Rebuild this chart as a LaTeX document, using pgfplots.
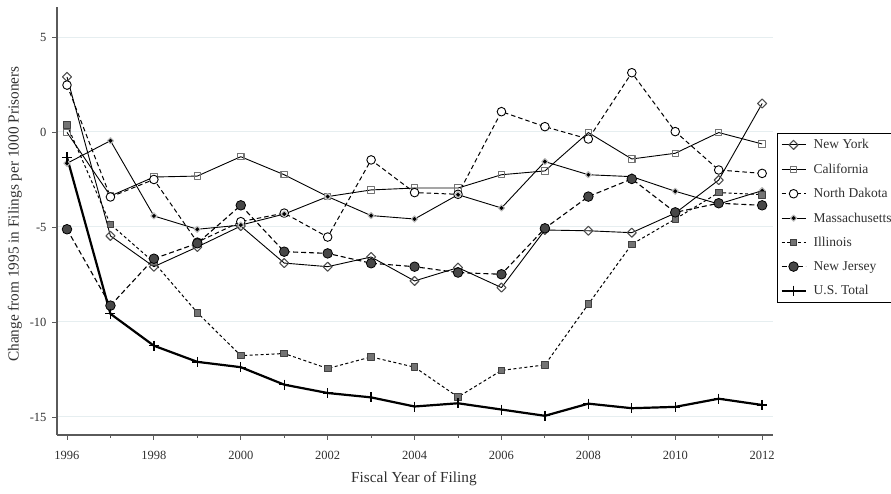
\documentclass[border=0pt]{standalone}
\usepackage{pgfplots}
\usepackage{pgfplotstable}
\pgfplotsset{compat=1.18}
\usepackage{fontspec}
\setmainfont{Liberation Serif}
\definecolor{gridc}{HTML}{E6EEF0}
\definecolor{spinec}{HTML}{5A5A5A}
\definecolor{txtc}{HTML}{303030}

\pgfplotstableread{
year NY CA ND MA IL NJ US
1996 2.9 -0.02 2.47 -1.65 0.37 -5.12 -1.33
1997 -5.47 -3.37 -3.42 -0.46 -4.86 -9.14 -9.57
1998 -7.09 -2.37 -2.5 -4.42 -6.86 -6.67 -11.25
1999 -6.05 -2.32 -5.8 -5.12 -9.51 -5.86 -12.1
2000 -4.95 -1.3 -4.72 -4.9 -11.77 -3.86 -12.38
2001 -6.9 -2.25 -4.27 -4.32 -11.66 -6.3 -13.3
2002 -7.09 -3.4 -5.53 -3.4 -12.45 -6.39 -13.74
2003 -6.58 -3.05 -1.47 -4.4 -11.84 -6.91 -13.97
2004 -7.84 -2.95 -3.19 -4.58 -12.38 -7.09 -14.45
2005 -7.14 -2.95 -3.28 -3.3 -13.95 -7.4 -14.28
2006 -8.19 -2.25 1.07 -4.0 -12.55 -7.49 -14.61
2007 -5.16 -2.05 0.28 -1.56 -12.26 -5.07 -14.94
2008 -5.2 -0.03 -0.37 -2.25 -9.06 -3.4 -14.3
2009 -5.3 -1.42 3.12 -2.35 -5.91 -2.47 -14.54
2010 -4.27 -1.12 0.02 -3.12 -4.58 -4.23 -14.47
2011 -2.53 -0.03 -2.0 -3.79 -3.19 -3.75 -14.04
2012 1.5 -0.63 -2.18 -3.09 -3.3 -3.86 -14.37
}\datatable

\begin{document}
\begin{tikzpicture}
\begin{axis}[
  name=ax,
  scale only axis,
  width=716pt, height=428pt,
  xmin=1995.77, xmax=2012.25,
  ymin=-15.95, ymax=6.58,
  axis x line*=bottom, axis y line*=left,
  axis line style={spinec, line width=1.1pt},
  tick align=outside,
  major tick length=5pt, minor tick length=3pt,
  tick style={spinec, line width=0.9pt},
  xtick={1996,1998,...,2012},
  minor xtick={1997,1999,...,2011},
  ytick={-15,-10,-5,0,5},
  ymajorgrids,
  grid style={gridc, line width=1pt},
  /pgf/number format/assume math mode=true,
  /pgf/number format/1000 sep={},
  xticklabel style={font=\fontsize{12.5}{15}\selectfont, text=txtc, yshift=-8pt},
  yticklabel style={font=\fontsize{12.5}{15}\selectfont, text=txtc, xshift=-2pt},
  xlabel={Fiscal Year of Filing},
  ylabel={Change from 1995 in Filings per 1000 Prisoners},
  xlabel style={font=\fontsize{15.3}{18}\selectfont, text=txtc, at={(axis description cs:0.4986,-0.1028)}, anchor=center},
  ylabel style={font=\fontsize{15.3}{18}\selectfont, text=txtc, at={(axis description cs:-0.0587,0.516)}, anchor=center, rotate=0},
  legend style={at={(axis description cs:1.0056,0.7056)}, anchor=north west,
    draw=black, line width=0.9pt, font=\fontsize{13.5}{16}\selectfont, text=txtc,
    inner xsep=3pt, inner ysep=4pt,
    row sep=9.5pt, nodes={inner sep=2pt}},
  legend cell align=left,
  legend image code/.code={\draw[mark repeat=2,mark phase=2,#1] plot coordinates {(0pt,0pt) (12pt,0pt) (24pt,0pt)}; \path (29pt,0pt);},
  every axis plot/.append style={line join=round},
]
% New York
\addplot[black, line width=0.9pt, mark=square, mark size=3.2pt,
  mark options={rotate=45, solid, draw=black!70, fill=white, line width=1.1pt}]
  table[x=year, y=NY]{\datatable};
\addlegendentry{New York}
% California
\addplot[black, line width=0.9pt, mark=square, mark size=3.2pt,
  mark options={solid, draw=black!55, fill=white, line width=1.1pt}]
  table[x=year, y=CA]{\datatable};
\addlegendentry{California}
% North Dakota
\addplot[black, line width=1pt, dash pattern=on 4.5pt off 3pt, mark=*, mark size=4.3pt,
  mark options={solid, draw=black, fill=white, line width=0.9pt}]
  table[x=year, y=ND]{\datatable};
\addlegendentry{North Dakota}
% Massachusetts
\addplot[black, line width=0.9pt, mark=square*, mark size=2.2pt,
  mark options={rotate=45, solid, draw=black!25, fill=black, line width=1.1pt}]
  table[x=year, y=MA]{\datatable};
\addlegendentry{Massachusetts}
% Illinois
\addplot[black, line width=1pt, dash pattern=on 3pt off 2.5pt, mark=square*, mark size=3.3pt,
  mark options={solid, draw=black!75, fill=black!55, line width=0.9pt}]
  table[x=year, y=IL]{\datatable};
\addlegendentry{Illinois}
% New Jersey
\addplot[black, line width=1.1pt, dash pattern=on 5pt off 3pt, mark=*, mark size=4.8pt,
  mark options={solid, draw=black, fill=black!72, line width=0.8pt}]
  table[x=year, y=NJ]{\datatable};
\addlegendentry{New Jersey}
% U.S. Total
\addplot[black, line width=2.2pt, mark=+, mark size=5pt,
  mark options={solid, line width=1.3pt}]
  table[x=year, y=US]{\datatable};
\addlegendentry{U.S. Total}
\end{axis}
\pgfresetboundingbox
\path[use as bounding box] (ax.south west) ++(-57pt,-59pt) rectangle ++(891pt,494pt);
\end{tikzpicture}
\end{document}
